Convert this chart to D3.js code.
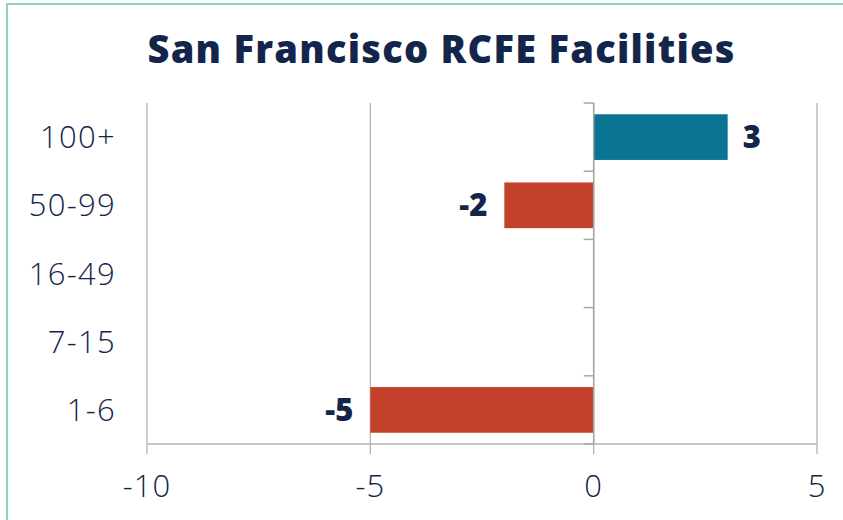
<!DOCTYPE html>
<html><head><meta charset="utf-8">
<script src="https://cdn.jsdelivr.net/npm/d3@7"></script>
<style>html,body{margin:0;padding:0;background:#fff;overflow:hidden}</style>
</head><body>
<svg id="chart" width="843" height="520"></svg>
<script>
const categories = ["100+", "50-99", "16-49", "7-15", "1-6"];
const values = [3, -2, 0, 0, -5];
const xTicks = [-10, -5, 0, 5];
const title = "San Francisco RCFE Facilities";

const svg = d3.select("#chart");
const W = 843, H = 520;
const m = {left:147, right:817, top:103, bottom:444};
const navy = "#13254b", teal = "#0b7393", red = "#c3412a";
const font = "'Open Sans', sans-serif";

svg.append("rect").attr("x",0).attr("y",0).attr("width",W).attr("height",H).attr("fill","#fff");
svg.append("rect").attr("x",7).attr("y",4).attr("width",W+20).attr("height",H+20)
  .attr("fill","none").attr("stroke","#8fd0bf").attr("stroke-width",2);

const x = d3.scaleLinear().domain([-10,5]).range([m.left,m.right]);
const y = d3.scaleBand().domain(categories).range([m.top,m.bottom]).paddingInner(0.33).paddingOuter(0.165);
const yb = d3.scaleBand().domain(categories).range([m.top,m.bottom]);

const t = svg.append("text").attr("x",441).attr("y",63).attr("text-anchor","middle")
  .attr("font-family",font).attr("font-weight",800).attr("font-size",38)
  .attr("fill",navy).text(title);
const tl = t.node().getComputedTextLength();
const ls = (587 - tl) / (title.length - 1);
t.attr("letter-spacing", ls).attr("x", 441 + ls/2);

// gridlines
svg.append("g").selectAll("line").data(xTicks).join("line")
  .attr("x1",d=>x(d)).attr("x2",d=>x(d)).attr("y1",m.top).attr("y2",m.bottom+10)
  .attr("stroke","#b3b3b3").attr("stroke-width",1.3);

// x axis line
svg.append("line").attr("x1",m.left).attr("x2",m.right).attr("y1",m.bottom).attr("y2",m.bottom)
  .attr("stroke","#b3b3b3").attr("stroke-width",1.5);

// x tick labels
svg.append("g").selectAll("text").data(xTicks).join("text")
  .attr("x",d=>x(d)).attr("y",497).attr("text-anchor","middle")
  .attr("font-family",font).attr("font-weight",300).attr("letter-spacing",1)
  .attr("font-size",31).attr("fill",navy).text(d=>d);

// bars
svg.append("g").selectAll("rect").data(categories).join("rect")
  .attr("x",(d,i)=>x(Math.min(0,values[i])))
  .attr("width",(d,i)=>Math.abs(x(values[i])-x(0)))
  .attr("y",d=>y(d)).attr("height",y.bandwidth())
  .attr("fill",(d,i)=>values[i]>=0?teal:red);

// y axis at zero
svg.append("line").attr("x1",x(0)).attr("x2",x(0)).attr("y1",m.top).attr("y2",m.bottom)
  .attr("stroke","#a6a6a6").attr("stroke-width",1.5);
const bounds = categories.map(c=>yb(c)).concat([m.bottom]);
svg.append("g").selectAll("line").data(bounds).join("line")
  .attr("x1",x(0)-10).attr("x2",x(0)).attr("y1",d=>d).attr("y2",d=>d)
  .attr("stroke","#a6a6a6").attr("stroke-width",1.5);

// category labels
svg.append("g").selectAll("text").data(categories).join("text")
  .attr("x",116).attr("y",d=>yb(d)+yb.bandwidth()/2+11).attr("text-anchor","end")
  .attr("font-family",font).attr("font-weight",300).attr("letter-spacing",1.3)
  .attr("font-size",31).attr("fill",navy).text(d=>d);

// value labels
svg.append("g").selectAll("text").data(categories.filter((c,i)=>values[i]!==0)).join("text")
  .attr("x",d=>{const v=values[categories.indexOf(d)];return v>=0?x(v)+15:x(v)-17;})
  .attr("y",d=>yb(d)+yb.bandwidth()/2+11)
  .attr("text-anchor",d=>values[categories.indexOf(d)]>=0?"start":"end")
  .attr("font-family",font).attr("font-weight",800).attr("font-size",31).attr("fill",navy)
  .text(d=>values[categories.indexOf(d)]);
</script>
</body></html>
